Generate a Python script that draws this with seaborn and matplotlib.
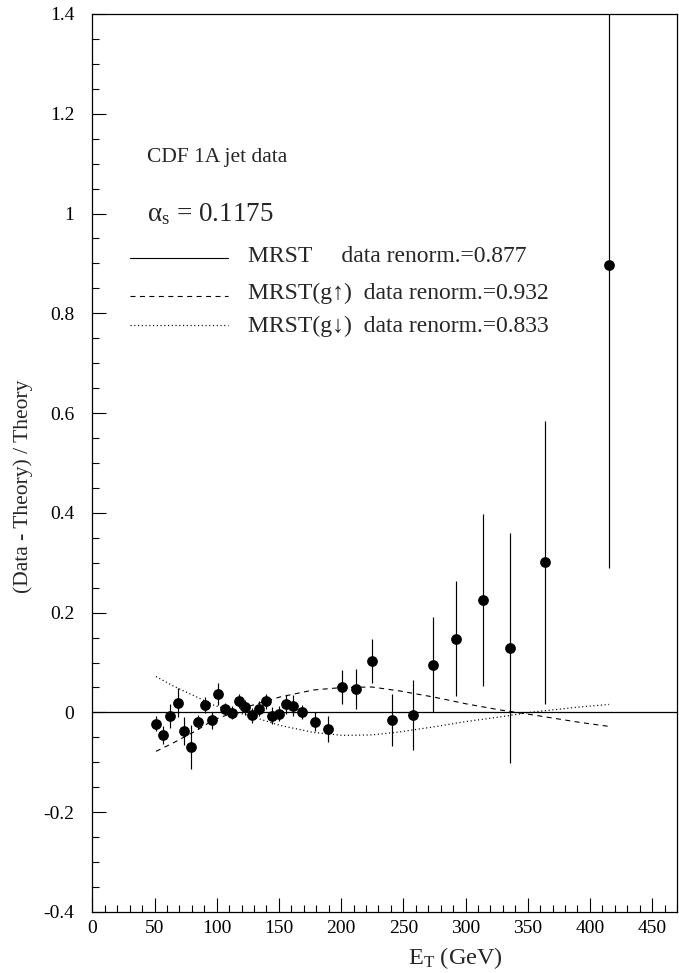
import matplotlib
matplotlib.use("Agg")
import matplotlib.pyplot as plt
from matplotlib.lines import Line2D
from matplotlib.ticker import MultipleLocator, FixedLocator
import seaborn as sns
import pandas as pd

# ---- data ----
et = [51.2, 56.8, 62.7, 68.6, 74.0, 79.3, 85.2, 90.6, 96.0, 101.3,
      106.7, 112.1, 117.7, 123.0, 128.4, 133.8, 139.4, 144.7, 150.3, 155.7,
      161.1, 168.8, 179.4, 189.2, 201.0, 211.7, 224.8, 241.2, 257.6, 273.6,
      292.4, 314.1, 335.5, 364.1, 415.4]
ratio = [-0.023, -0.045, -0.007, 0.019, -0.037, -0.070, -0.020, 0.015, -0.016, 0.037,
         0.007, -0.001, 0.023, 0.010, -0.006, 0.007, 0.022, -0.007, -0.003, 0.016,
         0.013, 0.000, -0.019, -0.034, 0.051, 0.047, 0.104, -0.016, -0.005, 0.096,
         0.148, 0.226, 0.129, 0.301, 0.896]
err = [0.015, 0.018, 0.024, 0.029, 0.028, 0.044, 0.014, 0.016, 0.017, 0.023,
       0.012, 0.013, 0.014, 0.015, 0.015, 0.015, 0.015, 0.017, 0.015, 0.019,
       0.021, 0.014, 0.019, 0.026, 0.035, 0.040, 0.044, 0.052, 0.070, 0.096,
       0.115, 0.172, 0.230, 0.284, 0.607]

curve_et = [51.2, 65.1, 83.9, 97.3, 110.7, 124.1, 150.9, 177.7, 201.0, 224.8,
            247.3, 274.1, 301.0, 327.8, 354.5, 392.0, 415.4]
gup = [-0.078, -0.061, -0.036, -0.015, -0.003, 0.011, 0.031, 0.045, 0.050, 0.051,
       0.043, 0.031, 0.017, 0.005, -0.005, -0.020, -0.028]
gdown = [0.072, 0.053, 0.031, 0.015, 0.004, -0.005, -0.026, -0.040, -0.046, -0.045,
         -0.039, -0.029, -0.018, -0.009, 0.001, 0.011, 0.016]

legend_labels = ["MRST     data renorm.=0.877",
                 "MRST(g\u2191)  data renorm.=0.932",
                 "MRST(g\u2193)  data renorm.=0.833"]
xticks = [0, 50, 100, 150, 200, 250, 300, 350, 400, 450]
yticks = [-0.4, -0.2, 0, 0.2, 0.4, 0.6, 0.8, 1.0, 1.2, 1.4]
ytick_labels = ["-0.4", "-0.2", "0", "0.2", "0.4", "0.6", "0.8", "1", "1.2", "1.4"]

# ---- style ----
sns.set_theme(style="white")
plt.rcParams["font.family"] = ["Liberation Serif", "DejaVu Serif"]
plt.rcParams["mathtext.fontset"] = "custom"
plt.rcParams["mathtext.rm"] = "Liberation Serif"
plt.rcParams["mathtext.it"] = "Liberation Serif:italic"
plt.rcParams["lines.scale_dashes"] = False

W, H = 679, 973
L, R, T, B = 92.3, 677.0, 14.0, 912.0
fig = plt.figure(figsize=(W / 100, H / 100), dpi=100)
ax = fig.add_axes([L / W, 1 - B / H, (R - L) / W, (B - T) / H])


def axc(px, py):
    return ((px - L) / (R - L), (B - py) / (B - T))


df = pd.DataFrame({"et": et, "ratio": ratio, "err": err})
cdf = pd.DataFrame({"et": curve_et, "gup": gup, "gdown": gdown})

ax.axhline(0, color="black", lw=0.9, zorder=2)
sns.lineplot(data=cdf, x="et", y="gup", ax=ax, color="black", lw=0.8,
             linestyle=(0, (3.6, 3.2)), sort=False, estimator=None)
sns.lineplot(data=cdf, x="et", y="gdown", ax=ax, color="black", lw=0.9,
             linestyle=(0, (0.8, 1.9)), sort=False, estimator=None)
ax.errorbar(df["et"], df["ratio"], yerr=df["err"], fmt="none",
            ecolor="black", elinewidth=0.85, capsize=0, zorder=3)
sns.scatterplot(data=df, x="et", y="ratio", ax=ax, color="black", s=60,
                edgecolor="black", linewidth=0, zorder=4)

ax.set_xlim(0, 470)
ax.set_ylim(-0.4, 1.4)
ax.xaxis.set_major_locator(FixedLocator(xticks))
ax.xaxis.set_minor_locator(MultipleLocator(10))
ax.yaxis.set_major_locator(FixedLocator(yticks))
ax.yaxis.set_minor_locator(MultipleLocator(0.05))
ax.set_yticklabels(ytick_labels)
ax.set_xticklabels([str(v) for v in xticks])
ax.tick_params(which="both", direction="in", left=True, bottom=True,
               right=False, top=False, colors="black", labelsize=14)
ax.tick_params(axis="y", which="major", length=9.9, width=0.8, pad=13)
ax.tick_params(axis="y", which="minor", length=5, width=0.8)
ax.tick_params(axis="x", which="major", length=9.9, width=0.8, pad=6)
ax.tick_params(axis="x", which="minor", length=5, width=0.8)
for s in ax.spines.values():
    s.set_color("black")
    s.set_linewidth(0.9)
ax.set_xlabel("")
ax.set_ylabel("")

fig.text(23 / W, 1 - 486 / H, "(Data - Theory) / Theory", rotation=90,
         ha="center", va="center", fontsize=15.5)
fig.text(455 / W, 1 - 958 / H, r"E$_{\mathrm{T}}$ (GeV)", ha="center",
         va="center", fontsize=17.5)

ax.text(*axc(147, 158), "CDF 1A jet data", ha="left", va="center",
        fontsize=15.5, transform=ax.transAxes)
ax.text(*axc(147, 214), "\u03b1$_{\\mathrm{s}}$ = 0.1175", ha="left",
        va="center", fontsize=19.5, transform=ax.transAxes)

styles = [dict(linestyle="-", lw=0.8),
          dict(linestyle=(0, (3.6, 3.2)), lw=0.8),
          dict(linestyle=(0, (0.8, 1.9)), lw=0.9)]
rows_line = [258, 296, 325]
rows_text = [257, 293, 326]
for st, yl, yt, lab in zip(styles, rows_line, rows_text, legend_labels):
    x0, y0 = axc(130, yl)
    x1, _ = axc(228, yl)
    ax.add_line(Line2D([x0, x1], [y0, y0], color="black",
                       transform=ax.transAxes, **st))
    ax.text(*axc(248, yt), lab, ha="left", va="center", fontsize=17,
            transform=ax.transAxes)

fig.savefig("out.png", dpi=100)
